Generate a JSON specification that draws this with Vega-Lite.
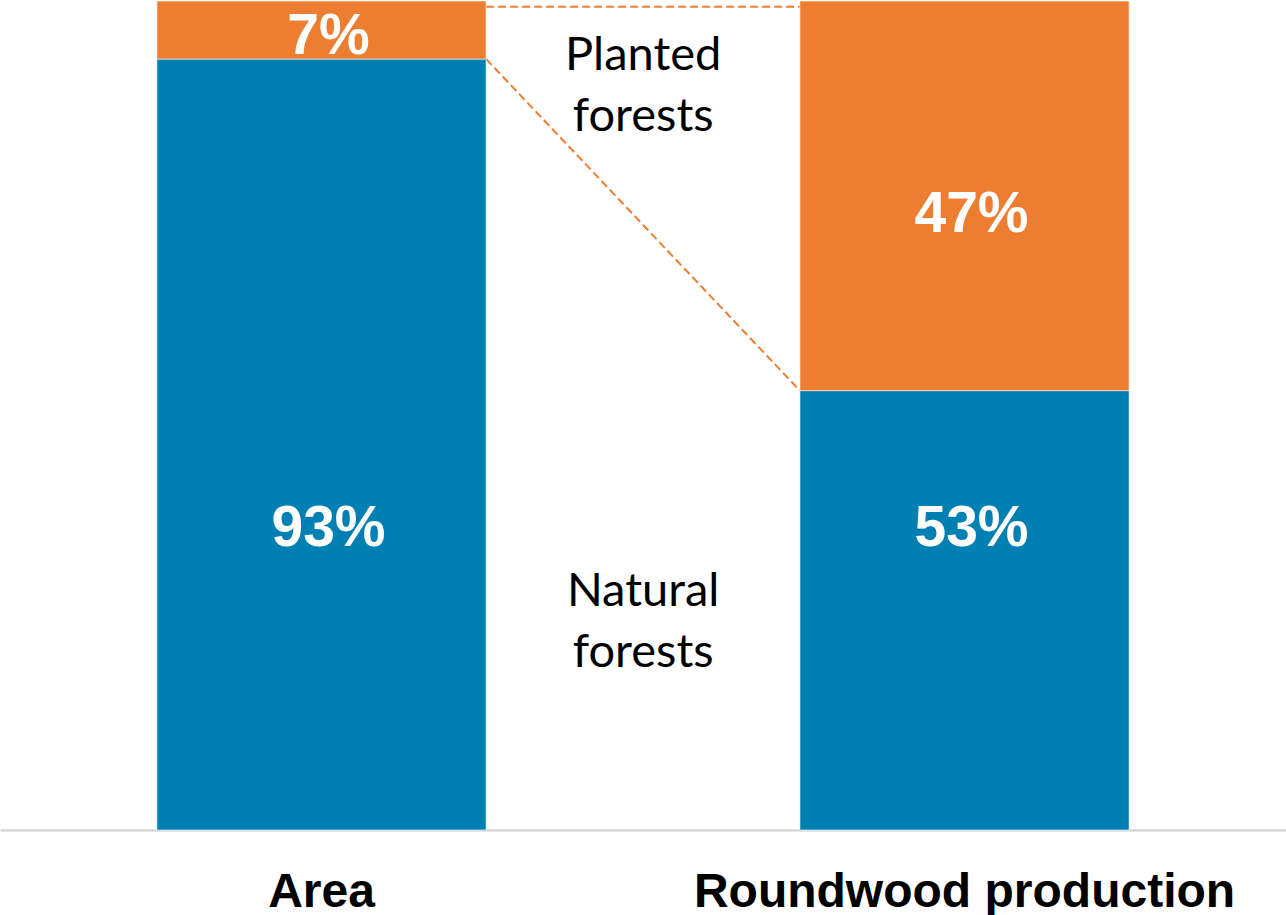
{
  "$schema": "https://vega.github.io/schema/vega-lite/v6.json",
  "width": 1286,
  "height": 829,
  "autosize": "none",
  "padding": {"top": 1, "left": 0, "right": 0, "bottom": 85},
  "background": "white",
  "config": {"view": {"stroke": null}},
  "datasets": {
    "shares": [
      {"category": "Area", "type": "Natural forests", "share": 93},
      {"category": "Area", "type": "Planted forests", "share": 7},
      {"category": "Roundwood production", "type": "Natural forests", "share": 53},
      {"category": "Roundwood production", "type": "Planted forests", "share": 47}
    ],
    "labels": [
      {"category": "Area", "label": "93%", "at": 36.3},
      {"category": "Area", "label": "7%", "at": 95.7},
      {"category": "Roundwood production", "label": "53%", "at": 36.3},
      {"category": "Roundwood production", "label": "47%", "at": 74.2}
    ],
    "connectors": [
      {"from": "Area", "to": "Roundwood production", "start": 99.3, "end": 99.3},
      {"from": "Area", "to": "Roundwood production", "start": 93, "end": 53}
    ],
    "notes": [
      {"category": "Area", "text": ["Planted", "forests"], "at": 93.4},
      {"category": "Area", "text": ["Natural", "forests"], "at": 28.7}
    ]
  },
  "encoding": {
    "x": {
      "field": "category",
      "type": "nominal",
      "sort": ["Area", "Roundwood production"],
      "scale": {"domain": ["Area", "Roundwood production"], "paddingInner": 0.488, "paddingOuter": 0.244},
      "axis": {
        "title": null,
        "labelAngle": 0,
        "ticks": false,
        "labelPadding": 38,
        "labelLimit": 0,
        "labelOverlap": false,
        "labelFont": "Liberation Sans",
        "labelFontWeight": "bold",
        "labelFontSize": 48,
        "labelColor": "#000000",
        "domainColor": "#D0D0D0",
        "domainWidth": 2,
        "grid": false
      }
    }
  },
  "layer": [
    {
      "data": {"name": "connectors"},
      "mark": {"type": "rule", "color": "#ED7D31", "strokeWidth": 2, "strokeDash": [8, 4]},
      "encoding": {
        "x": {"field": "from", "type": "nominal", "bandPosition": 1},
        "x2": {"field": "to", "bandPosition": 0},
        "y": {"field": "start", "type": "quantitative", "scale": {"domain": [0, 100]}, "axis": null},
        "y2": {"field": "end"}
      }
    },
    {
      "data": {"name": "shares"},
      "mark": {"type": "bar", "stroke": "white", "strokeWidth": 1, "strokeOpacity": 0.6},
      "encoding": {
        "y": {"field": "share", "type": "quantitative", "stack": "zero", "scale": {"domain": [0, 100]}, "axis": null},
        "color": {
          "field": "type",
          "type": "nominal",
          "scale": {"domain": ["Natural forests", "Planted forests"], "range": ["#0080B2", "#ED7D31"]},
          "legend": null
        },
        "order": {"field": "type", "sort": "ascending"}
      }
    },
    {
      "data": {"name": "labels"},
      "mark": {"type": "text", "font": "Liberation Sans", "fontWeight": "bold", "fontSize": 57, "color": "white", "baseline": "middle", "align": "center", "dx": 7},
      "encoding": {
        "y": {"field": "at", "type": "quantitative", "scale": {"domain": [0, 100]}, "axis": null},
        "text": {"field": "label"}
      }
    },
    {
      "data": {"name": "notes"},
      "mark": {"type": "text", "font": "Lato", "fontSize": 47, "lineHeight": 61, "color": "#000000", "baseline": "middle", "align": "center"},
      "encoding": {
        "x": {"field": "category", "type": "nominal", "bandPosition": 1.477},
        "y": {"field": "at", "type": "quantitative", "scale": {"domain": [0, 100]}, "axis": null},
        "text": {"field": "text"}
      }
    }
  ]
}
